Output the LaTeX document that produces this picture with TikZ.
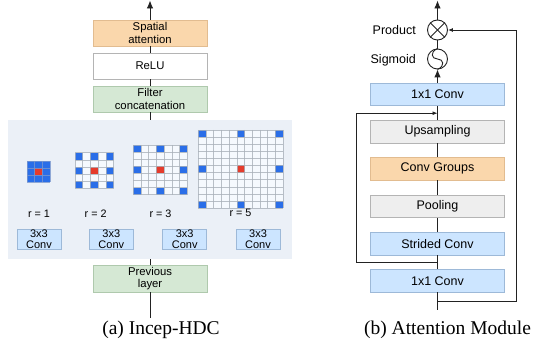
\documentclass[tikz,border=0pt]{standalone}
\usepackage{fontspec}
\setmainfont{Liberation Serif}
\setsansfont{Liberation Sans}
\usetikzlibrary{arrows.meta,calc}
\definecolor{bgpanel}{HTML}{EBF0F7}
\definecolor{orfill}{HTML}{FAD7AC}
\definecolor{ordraw}{HTML}{E2BC90}
\definecolor{grfill}{HTML}{D5E8D4}
\definecolor{grdraw}{HTML}{AFC9AD}
\definecolor{blfill}{HTML}{CCE5FF}
\definecolor{bldraw}{HTML}{9DB9D8}
\definecolor{gyfill}{HTML}{EEEEEE}
\definecolor{gydraw}{HTML}{B4B4B4}
\definecolor{cellblue}{HTML}{2A6EE8}
\definecolor{cellred}{HTML}{E53B2C}
\definecolor{cellbg}{HTML}{F5F9FE}
\definecolor{cellline}{HTML}{A9B1BA}
\definecolor{linec}{HTML}{222222}
\begin{document}
\begin{tikzpicture}[x=1pt,y=-1pt,
  lbox/.style={draw, line width=0.8pt, minimum width=114pt, minimum height=26pt, inner sep=0pt, align=center, font=\sffamily\fontsize{11.3}{12.5}\selectfont},
  rbox/.style={draw, line width=0.8pt, minimum width=134pt, minimum height=22.5pt, inner sep=0pt, align=center, font=\sffamily\fontsize{12.5}{14}\selectfont},
  cbox/.style={draw=bldraw, fill=blfill, line width=0.8pt, minimum width=44pt, minimum height=20pt, inner sep=0pt, align=center, font=\sffamily\fontsize{11}{11.3}\selectfont},
  rlab/.style={font=\sffamily\fontsize{10.8}{12}\selectfont, inner sep=0pt},
  conn/.style={draw=linec, line width=0.9pt},
  bigarr/.style={conn, -{Latex[length=8pt,width=6.5pt]}},
  smallarr/.style={conn, -{Latex[length=5pt,width=4pt]}},
  op/.style={circle, draw=linec, line width=0.9pt, minimum size=20pt, inner sep=0pt},
  captext/.style={font=\fontsize{19.5}{22}\selectfont, inner sep=0pt}
]
\useasboundingbox (0,0) rectangle (538,355);

% ---------- (a) Incep-HDC ----------
\node[fill=bgpanel, minimum width=284pt, minimum height=139pt, inner sep=0pt] (bgp) at (150,189.5) {};

\node[lbox, fill=orfill, draw=ordraw] (sa) at (150,33) {Spatial\\attention};
\node[lbox, fill=white, draw=gydraw] (relu) at (150,66) {ReLU};
\node[lbox, fill=grfill, draw=grdraw] (fc) at (150,99) {Filter\\concatenation};
\node[lbox, fill=grfill, draw=grdraw, minimum height=27pt] (prev) at (150,278.5) {Previous\\layer};

\coordinate (atop) at (150,0.5);
\coordinate (abot) at (150,318);
\draw[bigarr] (sa.north) -- (atop);
\draw[conn] (relu.north) -- (sa.south);
\draw[conn] (fc.north) -- (relu.south);
\draw[conn] (bgp.north) -- (fc.south);
\draw[conn] (prev.north) -- (bgp.south);
\draw[conn] (abot) -- (prev.south);

% grids: #1 x, #2 y (top-left), #3 n, #4 step (dilation), #5 line colour
\newcommand{\hdcgrid}[5]{%
  \pgfmathsetmacro{\gw}{#3*7.7}%
  \pgfmathsetmacro{\gh}{#3*7.1}%
  \fill[cellbg] (#1,#2) rectangle ++(\gw,\gh);
  \pgfmathtruncatemacro{\nm}{#3-1}%
  \pgfmathtruncatemacro{\hc}{(#3-1)/2}%
  \foreach \i in {0,...,\nm}{
    \foreach \j in {0,...,\nm}{
      \pgfmathtruncatemacro{\mi}{mod(\i,#4)}%
      \pgfmathtruncatemacro{\mj}{mod(\j,#4)}%
      \ifnum\mi=0 \ifnum\mj=0
        \fill[cellblue] ({#1+\i*7.7},{#2+\j*7.1}) rectangle ++(7.7,7.1);
      \fi\fi
    }
  }
  \fill[cellred] ({#1+\hc*7.7},{#2+\hc*7.1}) rectangle ++(7.7,7.1);
  \foreach \k in {0,...,#3}{
    \draw[#5, line width=0.5pt, opacity=0.8] ({#1+\k*7.7},#2) -- ++(0,\gh);
    \draw[#5, line width=0.5pt, opacity=0.8] (#1,{#2+\k*7.1}) -- ++(\gw,0);
  }
}
\hdcgrid{27}{161}{3}{1}{cellblue!75!black!60}
\hdcgrid{75}{152.7}{5}{2}{cellline}
\hdcgrid{133.3}{145}{7}{3}{cellline}
\hdcgrid{198.3}{130}{11}{5}{cellline}

\node[rlab] (r1) at (39,214) {r = 1};
\node[rlab] (r2) at (95.7,214) {r = 2};
\node[rlab] (r3) at (160.5,214) {r = 3};
\node[rlab] (r5) at (240.5,213) {r = 5};

\node[cbox] (k1) at (39,239) {3x3\\Conv};
\node[cbox] (k2) at (111.3,239) {3x3\\Conv};
\node[cbox] (k3) at (184.7,239) {3x3\\Conv};
\node[cbox] (k4) at (258,239) {3x3\\Conv};

\node[captext] (capa) at (161,330) {(a) Incep-HDC};

% ---------- (b) Attention Module ----------
\node[op] (prod) at (437.5,30) {};
\draw[linec, line width=0.9pt] (prod.north west) -- (prod.south east);
\draw[linec, line width=0.9pt] (prod.north east) -- (prod.south west);
\node[op] (sig) at (437.5,59) {};
\draw[linec, line width=0.9pt] (sig.north) .. controls ($(sig.center)+(-8,-7)$) and ($(sig.center)+(-6,0)$) .. (sig.center) .. controls ($(sig.center)+(6,0)$) and ($(sig.center)+(8,7)$) .. (sig.south);

\node[font=\sffamily\fontsize{12.5}{14}\selectfont, anchor=east, inner sep=0pt] (plab) at (416,30) {Product};
\node[font=\sffamily\fontsize{12.5}{14}\selectfont, anchor=east, inner sep=0pt] (slab) at (416,60) {Sigmoid};

\node[rbox, fill=blfill, draw=bldraw] (ca) at (437.5,94.5) {1x1 Conv};
\node[rbox, fill=gyfill, draw=gydraw] (up) at (437.5,131.7) {Upsampling};
\node[rbox, fill=orfill, draw=ordraw] (cg) at (437.5,168.7) {Conv Groups};
\node[rbox, fill=gyfill, draw=gydraw] (pool) at (437.5,206.3) {Pooling};
\node[rbox, fill=blfill, draw=bldraw] (sc) at (437.5,243.7) {Strided Conv};
\node[rbox, fill=blfill, draw=bldraw] (cb) at (437.5,280.7) {1x1 Conv};

\coordinate (btop) at (437.5,0.5);
\coordinate (bbot) at (437.5,309.5);
\draw[bigarr] (prod.north) -- (btop);
\draw[conn] (sig.north) -- (prod.south);
\draw[bigarr] (ca.north) -- (sig.south);
\draw[conn] (up.north) -- (ca.south);
\draw[conn] (cg.north) -- (up.south);
\draw[conn] (pool.north) -- (cg.south);
\draw[conn] (sc.north) -- (pool.south);
\draw[conn] (cb.north) -- (sc.south);
\draw[conn] (bbot) -- (cb.south);

% skip (left)
\coordinate (lsA) at (437.5,262.5);
\coordinate (lsB) at (356.7,262.5);
\coordinate (lsC) at (356.7,113.2);
\coordinate (lsD) at (437.5,113.2);
\draw[smallarr] (lsA) -- (lsB) -- (lsC) -- (lsD);

% skip (right)
\coordinate (rsA) at (437.5,301);
\coordinate (rsB) at (516,301);
\coordinate (rsC) at (516,30);
\draw[smallarr] (rsA) -- (rsB) -- (rsC) -- (prod.east);

\node[captext] (capb) at (447.5,330) {(b) Attention Module};
\end{tikzpicture}
\end{document}
